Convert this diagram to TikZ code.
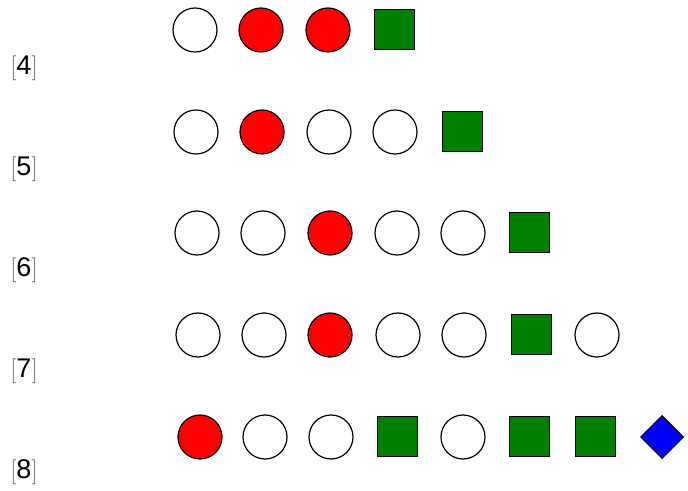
\documentclass[tikz,border=0pt]{standalone}
\usepackage{fontspec}
\setmainfont{Liberation Sans}
\usepackage{xcolor}
\usepackage{tikz}
\usetikzlibrary{shapes.geometric}
\definecolor{hitred}{RGB}{255,0,0}
\definecolor{blkgreen}{RGB}{0,128,0}
\definecolor{endblue}{RGB}{0,0,255}
\tikzset{
  emp/.style={circle,draw=black,line width=1.2pt,fill=white,minimum size=44pt,inner sep=0pt},
  hit/.style={emp,fill=hitred},
  blk/.style={rectangle,draw=black,line width=1pt,fill=blkgreen,minimum size=40pt,inner sep=0pt},
  dia/.style={diamond,draw=black,line width=1pt,fill=endblue,minimum size=43pt,inner sep=0pt,aspect=1},
  lab/.style={font=\fontsize{27}{32}\selectfont,inner sep=0pt}
}
\newcommand{\brk}[1]{{\color{gray!80!black}$[$}#1{\color{gray!80!black}$]$}}

\begin{document}
\begin{tikzpicture}[x=1pt,y=1pt]
\useasboundingbox (0,0) rectangle (688,490);
% row labels
\node[lab] (l4) at (24,422) {\brk{4}};
\node[lab] (l5) at (24,321) {\brk{5}};
\node[lab] (l6) at (24,220) {\brk{6}};
\node[lab] (l7) at (24,119) {\brk{7}};
\node[lab] (l8) at (24,18) {\brk{8}};
% rows
\foreach \x/\s [count=\i] in {195/emp,261/hit,328/hit,394/blk}
  \node[\s] (ra\i) at (\x,460) {};
\foreach \x/\s [count=\i] in {196/emp,262/hit,329/emp,395/emp,462/blk}
  \node[\s] (rb\i) at (\x,358) {};
\foreach \x/\s [count=\i] in {197/emp,263/emp,330/hit,397/emp,463/emp,529/blk}
  \node[\s] (rc\i) at (\x,257) {};
\foreach \x/\s [count=\i] in {198/emp,264/emp,330/hit,398/emp,464/emp,531/blk,597/emp}
  \node[\s] (rd\i) at (\x,155) {};
\foreach \x/\s [count=\i] in {200/hit,265/emp,331/emp,397/blk,463/emp,529/blk,595/blk,662/dia}
  \node[\s] (re\i) at (\x,53) {};
\end{tikzpicture}
\end{document}
